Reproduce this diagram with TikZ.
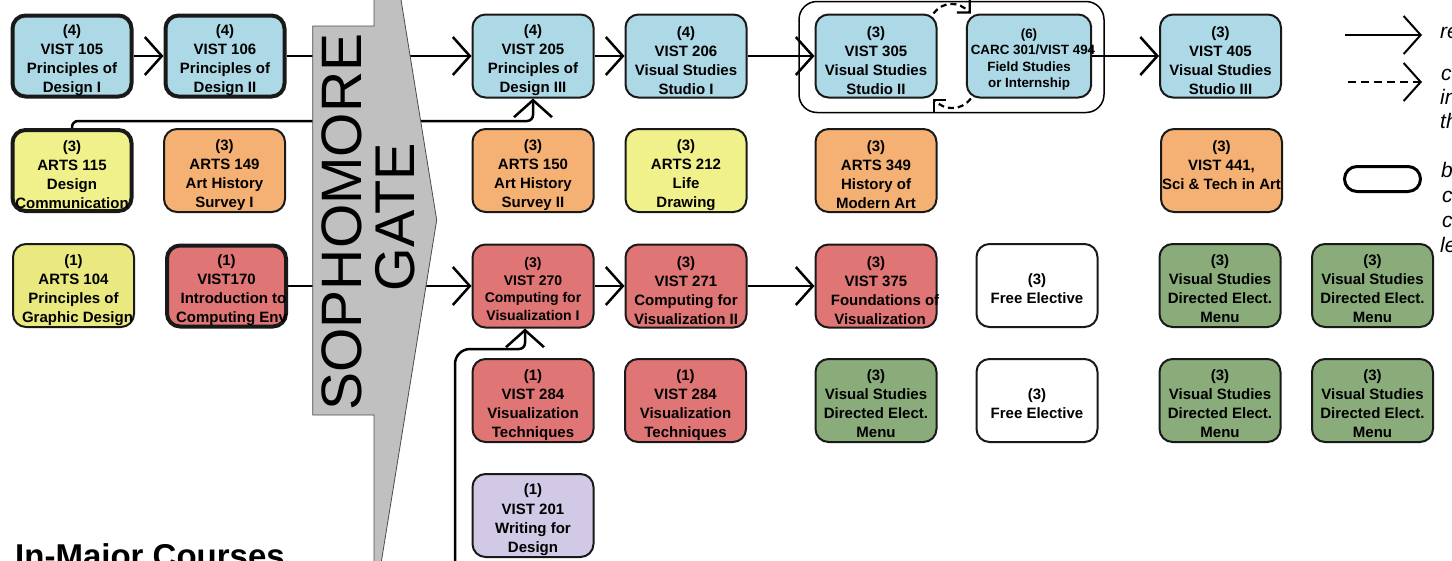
\documentclass[tikz,border=0pt]{standalone}
\usepackage{fontspec}
\setmainfont{Liberation Sans}
\usetikzlibrary{arrows.meta}
\definecolor{cblue}{RGB}{173,216,230}
\definecolor{corange}{RGB}{245,177,116}
\definecolor{cyellow}{RGB}{241,241,140}
\definecolor{cyellowb}{RGB}{233,233,128}
\definecolor{cred}{RGB}{224,117,117}
\definecolor{cgreen}{RGB}{137,172,122}
\definecolor{cpurple}{RGB}{209,201,230}
\definecolor{cgate}{RGB}{192,192,192}
\definecolor{cborder}{RGB}{25,25,25}
\newcommand\shiftby[2]{\kern#1\relax#2\kern-#1\relax}
\newcommand\bxs[1][19.8pt]{\rule{0pt}{#1}}
\begin{document}
\begin{tikzpicture}[x=1pt,y=-1pt,
  box/.style={draw=cborder, rounded corners=13pt, line width=2pt, minimum width=121pt, minimum height=83pt,
    align=center, inner sep=0pt, font=\fontsize{15}{18.9}\selectfont\bfseries},
  heavy/.style={box, line width=4pt, minimum width=119pt, minimum height=81pt},
  arr/.style={line width=2.5pt, -{Straight Barb[length=17pt,width=38pt]}},
  darr/.style={line width=2.2pt, dash pattern=on 6pt off 4pt, -{Straight Barb[length=9pt,width=18pt]}},
  legtxt/.style={anchor=base west, inner sep=0pt, font=\fontsize{21}{24}\selectfont\itshape}]
\path[use as bounding box] (0,0) rectangle (1452,560);
\clip (0,0) rectangle (1452,560);
% group frame
\node[draw=black, line width=1.5pt, rounded corners=18pt, minimum width=305pt, minimum height=111pt] (grp) at (951.5,57) {};
% columns A/B
\node[heavy, fill=cblue] (v105) at (72,56) {\bxs(4)\\VIST 105\\Principles of\\Design I};
\node[heavy, fill=cblue] (v106) at (225,56) {\bxs(4)\\VIST 106\\Principles of\\Design II};
\node[heavy, fill=cyellow] (a115) at (72,170.5) {\bxs(3)\\ARTS 115\\Design\\Communication};
\node[box, fill=corange] (a149) at (224.5,170.5) {\bxs(3)\\ARTS 149\\Art History\\Survey I};
\node[box, fill=cyellowb] (a104) at (73.5,285.5) {\bxs(1)\\ARTS 104\\Principles of\\\shiftby{4pt}{Graphic Design}};
\node[heavy, fill=cred] (v170) at (226.5,286) {\bxs(1)\\VIST170\\\shiftby{7pt}{Introduction to}\\\shiftby{5pt}{Computing Env}};
% row 1
\node[box, fill=cblue] (v205) at (533,56) {\bxs(4)\\VIST 205\\Principles of\\Design III};
\node[box, fill=cblue] (v206) at (686,56) {\bxs(4)\\VIST 206\\Visual Studies\\Studio I};
\node[box, fill=cblue] (v305) at (876,56) {\bxs(3)\\VIST 305\\Visual Studies\\Studio II};
\node[box, fill=cblue, font=\fontsize{13.4}{16.4}\selectfont\bfseries] (c301) at (1029,56) {\bxs[16.8pt](6)\\\shiftby{4pt}{CARC 301/VIST 494}\\Field Studies\\or Internship};
\node[box, fill=cblue] (v405) at (1220.5,56) {\bxs(3)\\VIST 405\\Visual Studies\\Studio III};
% row 2
\node[box, fill=corange] (a150) at (533,170.5) {\bxs(3)\\ARTS 150\\Art History\\Survey II};
\node[box, fill=cyellow] (a212) at (686,170.5) {\bxs(3)\\ARTS 212\\Life\\Drawing};
\node[box, fill=corange] (a349) at (876,170.5) {\bxs(3)\\ARTS 349\\History of\\Modern Art};
\node[box, fill=corange] (v441) at (1221.5,170.5) {(3)\\VIST 441,\\Sci \& Tech in Art\rule[-11pt]{0pt}{1pt}};
% row 3
\node[box, fill=cred, font=\fontsize{14}{17.8}\selectfont\bfseries] (v270) at (533,286) {\bxs[16.2pt](3)\\VIST 270\\Computing for\\Visualization I};
\node[box, fill=cred] (v271) at (686,286) {\bxs(3)\\VIST 271\\Computing for\\Visualization II};
\node[box, fill=cred] (v375) at (876,286) {\bxs(3)\\VIST 375\\\shiftby{9pt}{Foundations of}\\\shiftby{4pt}{Visualization}};
\node[box, fill=white] (fe1) at (1037,285.5) {\bxs[17pt](3)\\Free Elective};
\node[box, fill=cgreen] (g1) at (1220,285.5) {\bxs[17pt](3)\\Visual Studies\\Directed Elect.\\Menu};
\node[box, fill=cgreen] (g2) at (1372.5,285.5) {\bxs[17pt](3)\\Visual Studies\\Directed Elect.\\Menu};
% row 4
\node[box, fill=cred] (v284a) at (533,400.5) {\bxs(1)\\VIST 284\\Visualization\\Techniques};
\node[box, fill=cred] (v284b) at (685.5,400.5) {\bxs(1)\\VIST 284\\Visualization\\Techniques};
\node[box, fill=cgreen] (g3) at (876,400.5) {\bxs[17pt](3)\\Visual Studies\\Directed Elect.\\Menu};
\node[box, fill=white] (fe2) at (1037,400.5) {\bxs[17pt](3)\\Free Elective};
\node[box, fill=cgreen] (g4) at (1220,400.5) {\bxs[17pt](3)\\Visual Studies\\Directed Elect.\\Menu};
\node[box, fill=cgreen] (g5) at (1372.5,400.5) {\bxs[17pt](3)\\Visual Studies\\Directed Elect.\\Menu};
% row 5
\node[box, fill=cpurple, font=\fontsize{15}{19.3}\selectfont\bfseries] (v201) at (533,515.5) {\bxs(1)\\VIST 201\\Writing for\\Design};
% connectors
\coordinate (h1) at (0,121);
\coordinate (h2) at (0,349);
\coordinate (s201) at (455,590);
\coordinate (v270s) at ([xshift=-8pt]v270.south);
\draw[arr] (v105) -- (v106);
\draw[arr] (v106) -- (v205);
\draw[arr] (v205) -- (v206);
\draw[arr] (v206) -- (v305);
\draw[arr] (c301) -- (v405);
\draw[arr] (v170) -- (v270);
\draw[arr] (v270) -- (v271);
\draw[arr] (v271) -- (v375);
\draw[arr, rounded corners=6pt] (a115.north) -- (a115.north |- h1) -- (v205.south |- h1) -- (v205.south);
\draw[arr] (s201) [rounded corners=15pt] -- (s201 |- h2) [rounded corners=6pt] -- (h2 -| v270s) -- (v270s);
\draw[darr] ([xshift=-4pt]v305.north east) .. controls +(10,-13) and +(-12,-12) .. ([xshift=5pt]c301.north west);
\draw[darr] ([xshift=5pt]c301.south west) .. controls +(-10,13) and +(12,12) .. ([xshift=-5pt]v305.south east);
% sophomore gate
\filldraw[fill=cgate, draw=black!70, line width=0.8pt] (374,-167) -- (436.7,220) -- (374,607) -- (374,415) -- (312.7,415) -- (312.7,26) -- (374,26) -- cycle;
\node[rotate=90, inner sep=0pt, font=\fontsize{57}{57}\selectfont] (gtA) at (342,222) {SOPHOMORE};
\node[rotate=90, inner sep=0pt, font=\fontsize{56}{56}\selectfont] (gtB) at (395,217) {GATE};
% title
\node[anchor=base west, inner sep=0pt, font=\fontsize{33}{33}\selectfont\bfseries] (title) at (15,567) {In-Major Courses};
% legend
\coordinate (l1a) at (1345,35);
\coordinate (l1b) at (1422,35);
\coordinate (l2a) at (1348,82);
\coordinate (l2b) at (1422,82);
\draw[arr, line width=2pt] (l1a) -- (l1b);
\draw[arr, line width=2pt, dash pattern=on 8pt off 5pt] (l2a) -- (l2b);
\node[draw=black, line width=3pt, rounded corners=12.5pt, minimum width=76pt, minimum height=25pt, inner sep=0pt] (lpill) at (1382.5,179) {};
\node[legtxt] (t1) at (1440,38) {re};
\node[legtxt] (t2) at (1441,80) {co};
\node[legtxt] (t3) at (1440,104) {in};
\node[legtxt] (t4) at (1440,128) {th};
\node[legtxt] (t5) at (1441,177) {b};
\node[legtxt] (t6) at (1442,202) {c};
\node[legtxt] (t7) at (1442,227) {c};
\node[legtxt] (t8) at (1440,252) {le};
\end{tikzpicture}
\end{document}
